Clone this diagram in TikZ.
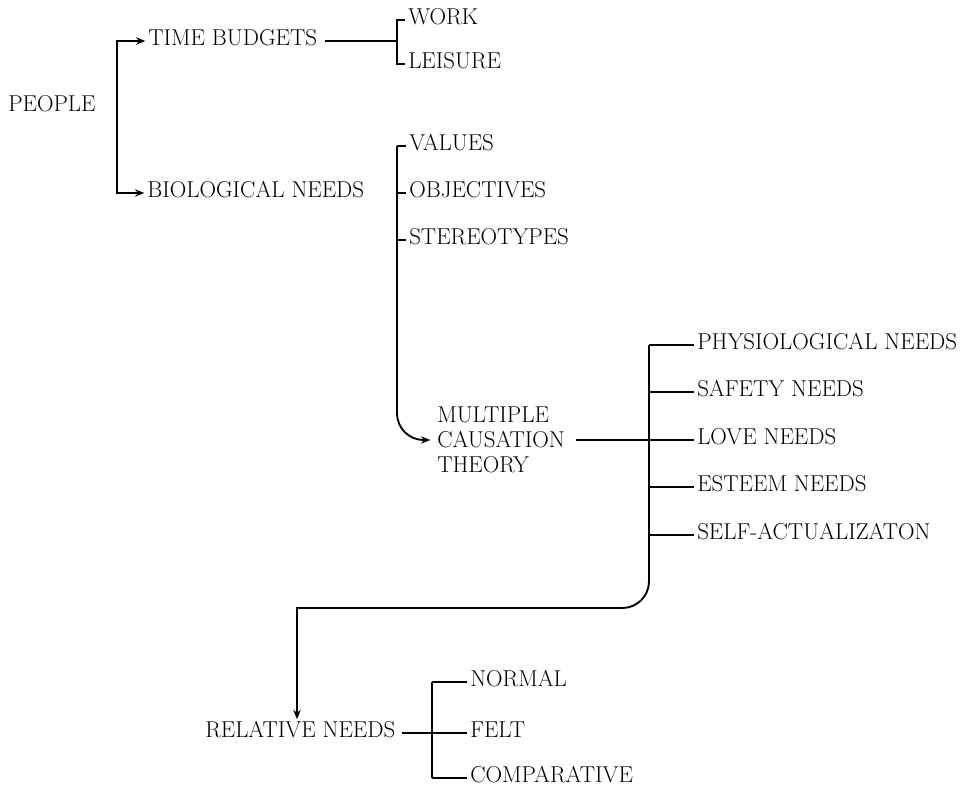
\documentclass[tikz,border=0pt]{standalone}
\usetikzlibrary{arrows.meta,calc}
\begin{document}
\begin{tikzpicture}[x=0.75pt,y=-0.75pt,
  lbl/.style={anchor=west,inner sep=0pt,font=\fontsize{17.2}{19}\selectfont,text height=0.68em,text depth=0pt},
  multi/.style={anchor=west,inner sep=0pt,font=\fontsize{17.2}{19}\selectfont,align=left},
  conn/.style={line width=1.4pt,line cap=butt},
  arr/.style={conn,-{Stealth[length=7pt,width=5.5pt]}},
  leaf/.style={conn,shorten >=2.5pt}]
\useasboundingbox (0,0) rectangle (977,789);
% nodes
\node[lbl] (people) at (8,107) {PEOPLE};
\node[lbl] (tb) at (148,41) {TIME BUDGETS};
\node[lbl] (bn) at (147,193) {BIOLOGICAL NEEDS};
\node[lbl] (work) at (408,20) {WORK};
\node[lbl] (leis) at (408,64) {LEISURE};
\node[lbl] (val) at (409,146) {VALUES};
\node[lbl] (obj) at (409,193) {OBJECTIVES};
\node[lbl] (ster) at (409,240) {STEREOTYPES};
\node[multi] (mct) at (437,440) {MULTIPLE\\CAUSATION\\THEORY};
\node[lbl] (phys) at (697,345) {PHYSIOLOGICAL NEEDS};
\node[lbl] (safe) at (697,392) {SAFETY NEEDS};
\node[lbl] (love) at (697,440) {LOVE NEEDS};
\node[lbl] (est) at (697,487) {ESTEEM NEEDS};
\node[lbl] (self) at (697,535) {SELF-ACTUALIZATON};
\node[lbl] (rel) at (205,733) {RELATIVE NEEDS};
\node[lbl] (norm) at (470,682) {NORMAL};
\node[lbl] (felt) at (470,733) {FELT};
\node[lbl] (comp) at (470,778) {COMPARATIVE};
% spine coordinates
\coordinate (s1) at (117,107);
\coordinate (s2) at (397,41);
\coordinate (s3) at (397,146);
\coordinate (s4) at (649,345);
\coordinate (s5) at (432,733);
% people
\draw[arr] (s1) |- ([xshift=-2]tb.west);
\draw[arr] (s1) |- ([xshift=-2]bn.west);
% time budgets
\draw[conn] ([xshift=6]tb.east) -- (s2);
\draw[leaf] (s2) |- (work.west);
\draw[leaf] (s2) |- (leis.west);
% biological needs bracket
\draw[leaf] (s3) -- (val.west);
\draw[leaf] (s3 |- obj) -- (obj.west);
\draw[leaf] (s3 |- ster) -- (ster.west);
\draw[arr,rounded corners=20pt] (s3) |- ([xshift=-5]mct.west);
% multiple causation
\draw[leaf] ([xshift=8]mct.east) -- (love.west);
\draw[leaf] (s4) -- (phys.west);
\draw[leaf] (s4 |- safe) -- (safe.west);
\draw[leaf] (s4 |- est) -- (est.west);
\draw[leaf] (s4 |- self) -- (self.west);
\draw[arr] (s4) [rounded corners=20pt] -- (649,608) [sharp corners] -- (297,608) -- ($(297,0 |- rel.north)+(0,-9)$);
% relative needs
\draw[leaf] ([xshift=5]rel.east) -- (felt.west);
\draw[conn] (s5 |- norm) -- (s5 |- comp);
\draw[leaf] (s5 |- norm) -- (norm.west);
\draw[leaf] (s5 |- comp) -- (comp.west);
\end{tikzpicture}
\end{document}
